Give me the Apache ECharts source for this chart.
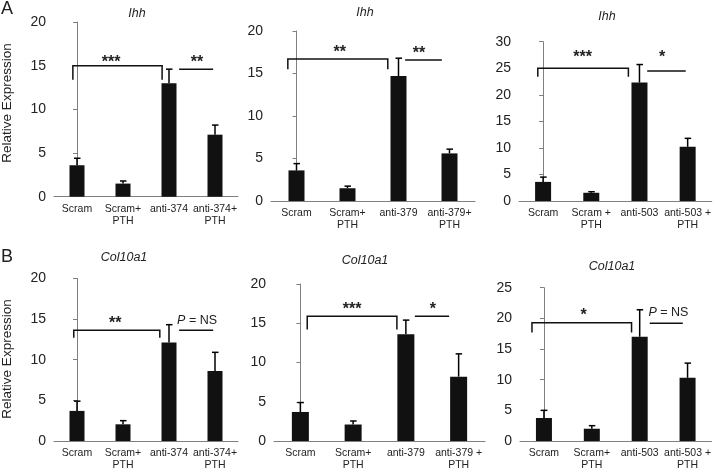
<!DOCTYPE html>
<html>
<head>
<meta charset="utf-8">
<script src="https://cdn.jsdelivr.net/npm/echarts@6/dist/echarts.min.js"></script>
<style>
html,body{margin:0;padding:0;background:#fff;}
#c{width:714px;height:471px;}
</style>
</head>
<body>
<div id="c"></div>
<script>
// ---- categories ----
const catsA1 = ['Scram', 'Scram+\nPTH', 'anti-374', 'anti-374+\nPTH'];
const catsA2 = ['Scram', 'Scram+\nPTH', 'anti-379', 'anti-379+\nPTH'];
const catsA3 = ['Scram', 'Scram +\nPTH', 'anti-503', 'anti-503 +\nPTH'];
const catsB1 = ['Scram', 'Scram+\nPTH', 'anti-374', 'anti-374+\nPTH'];
const catsB2 = ['Scram', 'Scram+\nPTH', 'anti-379', 'anti-379 +\nPTH'];
const catsB3 = ['Scram', 'Scram+\nPTH', 'anti-503', 'anti-503 +\nPTH'];

// ---- titles ----
const titleA = 'Ihh';
const titleB = 'Col10a1';
const yName = 'Relative Expression';

// ---- values (mean) and upper error-bar ends ----
const ihh374 = [3.6, 1.5, 13.0, 7.1];
const ihh374Top = [4.4, 1.8, 14.6, 8.2];
const ihh379 = [3.6, 1.5, 14.7, 5.6];
const ihh379Top = [4.4, 1.75, 16.8, 6.1];
const ihh503 = [3.6, 1.55, 22.3, 10.2];
const ihh503Top = [4.5, 1.75, 25.7, 11.8];
const col374 = [3.7, 2.05, 12.1, 8.6];
const col374Top = [4.9, 2.5, 14.3, 10.9];
const col379 = [3.7, 2.1, 13.6, 8.2];
const col379Top = [4.9, 2.55, 15.4, 11.1];
const col503 = [3.75, 2.0, 17.0, 10.3];
const col503Top = [5.0, 2.5, 21.4, 12.7];

// ---- y axis maxima ----
const yMax = [20, 20, 30, 20, 20, 25];

// ---- significance brackets: [xStart, xEnd, yLine, yDrop(or null)] in category/data units ----
const brA1 = [[-0.09, 1.85, 15.0, 13.4], [2.22, 2.96, 14.6, null]];
const brA2 = [[-0.17, 1.79, 16.7, 15.5], [2.13, 2.85, 16.6, null]];
const brA3 = [[-0.11, 1.77, 25.0, 23.4], [2.16, 2.96, 24.5, null]];
const brB1 = [[-0.07, 1.80, 13.6, 12.7], [2.22, 2.96, 13.6, null]];
const brB2 = [[0.13, 1.83, 15.9, 14.2], [2.17, 2.82, 15.9, null]];
const brB3 = [[-0.25, 1.83, 19.3, 17.7], [2.21, 2.90, 19.2, null]];

// ---- significance labels: positions [x, y] and texts ----
const sigPosA1 = [[0.74, 15.6], [2.61, 15.6]];
const sigTxtA1 = ['***', '**'];
const sigPosA2 = [[0.85, 17.7], [2.40, 17.6]];
const sigTxtA2 = ['**', '**'];
const sigPosA3 = [[0.82, 27.5], [2.47, 27.5]];
const sigTxtA3 = ['***', '*'];
const sigPosB1 = [[0.83, 14.7], [2.61, 14.8]];
const sigTxtB1 = ['**', 'P = NS'];
const sigPosB2 = [[0.98, 17.1], [2.51, 17.1]];
const sigTxtB2 = ['***', '*'];
const sigPosB3 = [[0.83, 20.9], [2.60, 20.9]];
const sigTxtB3 = ['*', 'P = NS'];

const FONT = '"Liberation Sans", Arial, sans-serif';
const TXT = '#222';
const AXC = '#808080';

const panels = [
  {cats: catsA1, vals: ihh374, tops: ihh374Top, br: brA1, sp: sigPosA1, st: sigTxtA1, grid: {left: 54, top: 22, width: 184, height: 174.7}, bw: 15},
  {cats: catsA2, vals: ihh379, tops: ihh379Top, br: brA2, sp: sigPosA2, st: sigTxtA2, grid: {left: 271, top: 31, width: 204, height: 170}, bw: 16},
  {cats: catsA3, vals: ihh503, tops: ihh503Top, br: brA3, sp: sigPosA3, st: sigTxtA3, grid: {left: 519, top: 41.7, width: 194, height: 159.3}, bw: 16},
  {cats: catsB1, vals: col374, tops: col374Top, br: brB1, sp: sigPosB1, st: sigTxtB1, grid: {left: 54, top: 278.3, width: 184, height: 165.2}, bw: 15},
  {cats: catsB2, vals: col379, tops: col379Top, br: brB2, sp: sigPosB2, st: sigTxtB2, grid: {left: 274, top: 284, width: 211, height: 157.5}, bw: 17},
  {cats: catsB3, vals: col503, tops: col503Top, br: brB3, sp: sigPosB3, st: sigTxtB3, grid: {left: 520, top: 287.7, width: 192, height: 155.3}, bw: 16}
];

const grid = [], xAxis = [], yAxis = [], series = [];
panels.forEach((p, i) => {
  grid.push(Object.assign({containLabel: false}, p.grid));
  xAxis.push({
    type: 'category', gridIndex: i, data: p.cats,
    axisLine: {lineStyle: {color: AXC, width: 1}},
    axisTick: {show: false},
    axisLabel: {interval: 0, color: TXT, fontSize: 10.5, fontFamily: FONT, lineHeight: 12, margin: 6}
  });
  yAxis.push({
    type: 'value', gridIndex: i, min: 0, max: yMax[i], interval: 5,
    axisLine: {show: true, lineStyle: {color: AXC, width: 1}},
    axisTick: {show: true, length: 4, lineStyle: {color: AXC}},
    splitLine: {show: false},
    axisLabel: {color: TXT, fontSize: 14, fontFamily: FONT, margin: 8}
  });
});
panels.forEach((p, i) => {
  xAxis.push({type: 'value', gridIndex: i, min: -0.5, max: 3.5, show: false});
});

panels.forEach((p, i) => {
  series.push({
    type: 'bar', xAxisIndex: i, yAxisIndex: i, data: p.vals,
    barWidth: p.bw, itemStyle: {color: '#111'}, silent: true, animation: false
  });
  series.push({
    type: 'custom', xAxisIndex: 6 + i, yAxisIndex: i, animation: false, silent: true,
    data: p.vals.map((v, k) => [k, v, p.tops[k]]),
    renderItem: function (params, api) {
      const a = api.coord([api.value(0), api.value(1)]);
      const b = api.coord([api.value(0), api.value(2)]);
      const st = {stroke: '#000', lineWidth: 1.5};
      return {type: 'group', children: [
        {type: 'line', shape: {x1: a[0], y1: a[1], x2: b[0], y2: b[1]}, style: st},
        {type: 'line', shape: {x1: b[0] - 3, y1: b[1], x2: b[0] + 3.5, y2: b[1]}, style: st}
      ]};
    }
  });
  series.push({
    type: 'custom', xAxisIndex: 6 + i, yAxisIndex: i, animation: false, silent: true,
    data: p.br.map(b => [b[0], b[1], b[2], b[3] == null ? b[2] : b[3]]),
    renderItem: function (params, api) {
      const x1 = api.value(0), x2 = api.value(1), y = api.value(2), yd = api.value(3);
      const pts = [api.coord([x1, yd]), api.coord([x1, y]), api.coord([x2, y]), api.coord([x2, yd])];
      return {type: 'polyline', shape: {points: pts}, style: {stroke: '#111', lineWidth: 1.5, fill: null}};
    }
  });
  series.push({
    type: 'custom', xAxisIndex: 6 + i, yAxisIndex: i, animation: false, silent: true,
    data: p.sp.map(s => [s[0], s[1]]),
    renderItem: function (params, api) {
      const c = api.coord([api.value(0), api.value(1)]);
      const t = p.st[params.dataIndex];
      if (t.indexOf('P') === 0) {
        return {type: 'text', x: c[0], y: c[1], style: {
          text: '{i|P} = NS', align: 'center', verticalAlign: 'middle',
          fill: TXT, fontSize: 12.5, fontFamily: FONT,
          rich: {i: {fontStyle: 'italic', fontSize: 12.5, fontFamily: FONT, fill: TXT}}
        }};
      }
      return {type: 'text', x: c[0], y: c[1] + 2.5, style: {
        text: t, align: 'center', verticalAlign: 'middle',
        fill: TXT, fontSize: 16, fontWeight: 'bold', fontFamily: FONT
      }};
    }
  });
});

const graphic = [
  {type: 'text', x: 1, y: 9, style: {text: 'A', fontSize: 18, fontFamily: FONT, fill: TXT, verticalAlign: 'middle'}},
  {type: 'text', x: 1, y: 257, style: {text: 'B', fontSize: 18, fontFamily: FONT, fill: TXT, verticalAlign: 'middle'}},
  {type: 'text', x: 7, y: 103, rotation: Math.PI / 2, style: {text: yName, fontSize: 13.5, fontFamily: FONT, fill: TXT, align: 'center', verticalAlign: 'middle'}},
  {type: 'text', x: 7, y: 359, rotation: Math.PI / 2, style: {text: yName, fontSize: 13.5, fontFamily: FONT, fill: TXT, align: 'center', verticalAlign: 'middle'}},
  {type: 'text', x: 137, y: 14, style: {text: titleA, fontSize: 12.5, fontStyle: 'italic', fontFamily: FONT, fill: TXT, align: 'center', verticalAlign: 'middle'}},
  {type: 'text', x: 365, y: 13, style: {text: titleA, fontSize: 12.5, fontStyle: 'italic', fontFamily: FONT, fill: TXT, align: 'center', verticalAlign: 'middle'}},
  {type: 'text', x: 607, y: 17, style: {text: titleA, fontSize: 12.5, fontStyle: 'italic', fontFamily: FONT, fill: TXT, align: 'center', verticalAlign: 'middle'}},
  {type: 'text', x: 124, y: 258, style: {text: titleB, fontSize: 12.5, fontStyle: 'italic', fontFamily: FONT, fill: TXT, align: 'center', verticalAlign: 'middle'}},
  {type: 'text', x: 365, y: 261, style: {text: titleB, fontSize: 12.5, fontStyle: 'italic', fontFamily: FONT, fill: TXT, align: 'center', verticalAlign: 'middle'}},
  {type: 'text', x: 612, y: 267, style: {text: titleB, fontSize: 12.5, fontStyle: 'italic', fontFamily: FONT, fill: TXT, align: 'center', verticalAlign: 'middle'}}
];

const chart = echarts.init(document.getElementById('c'), null, {renderer: 'canvas'});
chart.setOption({
  animation: false,
  backgroundColor: '#fff',
  grid, xAxis, yAxis, series, graphic
});
</script>
</body>
</html>
